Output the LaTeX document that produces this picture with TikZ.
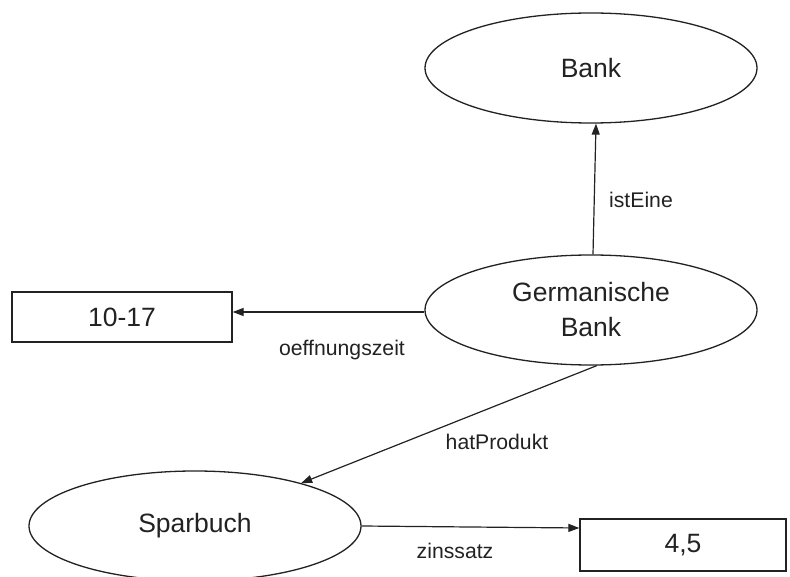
\documentclass[tikz,border=0pt]{standalone}
\usepackage{fontspec}
\setmainfont{Liberation Sans}
\usetikzlibrary{shapes.geometric,arrows.meta}
\definecolor{ink}{HTML}{222222}
\tikzset{
  concept/.style={ellipse, draw=ink, line width=1.3pt, minimum width=332pt,
    minimum height=110pt, inner sep=0pt, text=ink, align=center,
    font=\fontsize{26.5}{35}\selectfont},
  literal/.style={rectangle, draw=ink, line width=1.3pt, inner sep=0pt,
    text=ink, font=\fontsize{26.5}{30}\selectfont},
  relation/.style={draw=ink, line width=1.2pt, -{Triangle[length=11pt,width=8pt]}},
  rellabel/.style={text=ink, font=\fontsize{21.2}{24}\selectfont}
}
\begin{document}
\begin{tikzpicture}[x=1pt,y=-1pt]
  \useasboundingbox (0,0) rectangle (790,577);
  \fill[white] (0,0) rectangle (790,577);

  % classes and instances
  \node[concept] (bank) at (591,68) {Bank};
  \node[concept] (gb) at (591,310) {Germanische\\Bank};
  \node[concept] (spar) at (195,526) {Sparbuch};

  % literal values
  \node[literal, minimum width=220pt, minimum height=50pt] (hours) at (122,317) {10-17};
  \node[literal, minimum width=206pt, minimum height=52pt] (rate) at (683,545) {4,5};

  % properties
  \draw[relation] ([xshift=2pt]gb.north) -- ([xshift=5pt]bank.south);
  \node[rellabel] (l1) at (641,200) {istEine};

  \draw[relation] ([yshift=-2pt]gb.west) -- ([yshift=5pt]hours.east);
  \node[rellabel] (l2) at (342,350) {oeffnungszeit};

  \draw[relation] (gb.-84) -- (spar.22);
  \node[rellabel] (l3) at (497,442) {hatProdukt};

  \draw[relation] (spar.east) -- ([yshift=17pt]rate.west);
  \node[rellabel] (l4) at (455,551) {zinssatz};
\end{tikzpicture}
\end{document}
